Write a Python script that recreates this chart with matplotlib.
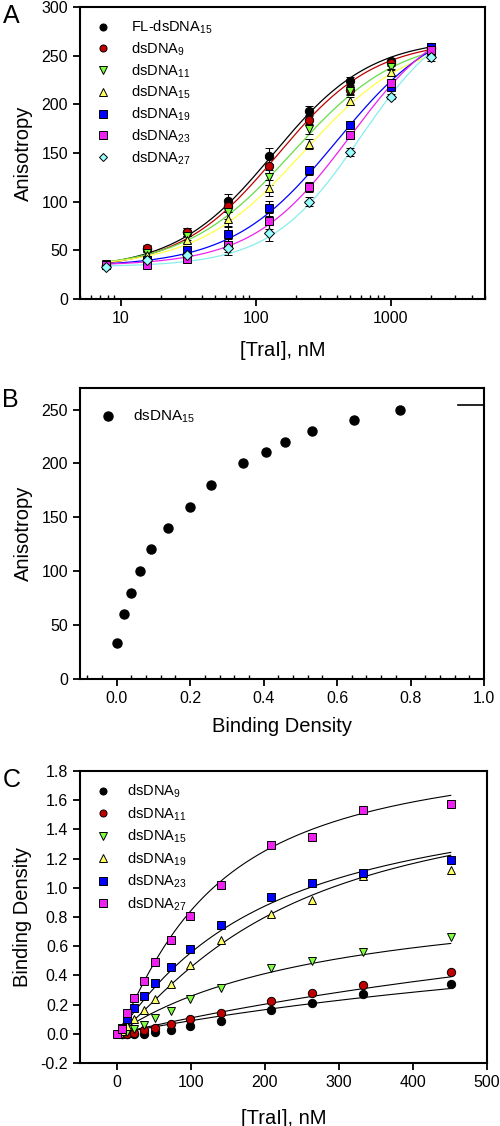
import numpy as np
import matplotlib
matplotlib.use('Agg')
import matplotlib.pyplot as plt
from matplotlib.ticker import MultipleLocator, LogLocator, NullFormatter, FixedLocator

plt.rcParams['font.family'] = ['Liberation Sans', 'DejaVu Sans']
plt.rcParams['mathtext.fontset'] = 'custom'
plt.rcParams['mathtext.rm'] = 'Liberation Sans'
plt.rcParams['mathtext.it'] = 'Liberation Sans'

# ---- panel A: anisotropy vs [TraI] ----
a_conc = [7.8, 15.6, 31.25, 62.5, 125, 250, 500, 1000, 2000]
a_labels = ['FL-dsDNA$_{15}$', 'dsDNA$_{9}$', 'dsDNA$_{11}$', 'dsDNA$_{15}$',
            'dsDNA$_{19}$', 'dsDNA$_{23}$', 'dsDNA$_{27}$']
a_fl15 = [35, 51, 69, 101, 147, 193, 224, 245, 259]
a_ds9 = [34, 52, 69, 96, 137, 184, 215, 242, 258]
a_ds11 = [36, 47, 65, 89, 125, 175, 214, 238, 257]
a_ds15 = [36, 45, 61, 82, 114, 159, 203, 233, 255]
a_ds19 = [35, 40, 50, 67, 93, 132, 179, 218, 259]
a_ds23 = [35, 35, 41, 55, 80, 115, 168, 222, 256]
a_ds27 = [33, 40, 45, 52, 68, 100, 151, 208, 249]
a_err = [2, 3, 4, 7, 8, 5, 4, 3, 4]
# Hill fit parameters per series: bottom, top, K, n
a_fits = [(30, 268, 135, 1.2), (30, 266, 145, 1.2), (31, 270, 187, 1.1),
          (32, 270, 226, 1.1), (33, 292, 400, 1.12), (34, 300, 500, 1.2),
          (33, 300, 600, 1.3)]

# ---- panel B: anisotropy vs binding density ----
b_density = [0.0, 0.019, 0.039, 0.063, 0.094, 0.14, 0.199, 0.258, 0.344,
             0.407, 0.457, 0.533, 0.645, 0.771]
b_aniso = [33, 60, 80, 100, 121, 140, 160, 180, 200, 211, 220, 230, 240, 250]

# ---- panel C: binding density vs [TraI] ----
c_conc = [0, 7, 14, 23, 36, 52, 73, 99, 140, 208, 264, 333, 451]
c_labels = ['dsDNA$_{9}$', 'dsDNA$_{11}$', 'dsDNA$_{15}$', 'dsDNA$_{19}$',
            'dsDNA$_{23}$', 'dsDNA$_{27}$']
c_ds9 = [np.nan, 0.0, 0.0, -0.005, 0.0, 0.01, 0.023, 0.05, 0.09, 0.16, 0.213, 0.27, 0.34]
c_ds11 = [np.nan, 0.0, 0.0, 0.007, 0.023, 0.041, 0.066, 0.098, 0.144, 0.222, 0.277, 0.336, 0.42]
c_ds15 = [np.nan, 0.0, 0.011, 0.034, 0.062, 0.108, 0.156, 0.236, 0.313, 0.453, 0.499, 0.558, 0.66]
c_ds19 = [np.nan, 0.02, 0.05, 0.10, 0.16, 0.24, 0.343, 0.474, 0.645, 0.817, 0.915, 1.078, 1.12]
c_ds23 = [np.nan, 0.04, 0.103, 0.176, 0.256, 0.35, 0.458, 0.58, 0.745, 0.94, 1.03, 1.10, 1.19]
c_ds27 = [0.0, 0.032, 0.144, 0.247, 0.361, 0.494, 0.64, 0.808, 1.02, 1.29, 1.35, 1.53, 1.572]
# fit parameters: top, K, n
c_fits = [(1.035, 1055, 1.0), (1.47, 1250, 1.0), (1.03, 300, 1.0),
          (1.75, 230, 1.25), (1.75, 200, 1.1), (2.0, 130, 1.2)]

styles = [('o', '#000000', '#000000'), ('o', '#c00000', '#c00000'),
          ('v', '#80ff40', '#66dd44'), ('^', '#ffff66', '#ffff44'),
          ('s', '#0000ff', '#0000ff'), ('s', '#ee22ee', '#ee22ee'),
          ('D', '#99ffff', '#88eeee')]

fig = plt.figure(figsize=(5.0, 11.26), dpi=100)
axA = fig.add_axes([0.16, 0.7345, 0.81, 0.2593])
axB = fig.add_axes([0.16, 0.397, 0.808, 0.2584])
axC = fig.add_axes([0.16, 0.056, 0.814, 0.2593])


def style_axis(ax):
    for sp in ax.spines.values():
        sp.set_linewidth(1.5)
    ax.tick_params(which='major', direction='out', length=5, width=1.3,
                   labelsize=11.5, top=False, right=False)
    ax.tick_params(which='minor', direction='in', length=3, width=1.0,
                   top=False, right=False)


# panel A
a_series = [a_fl15, a_ds9, a_ds11, a_ds15, a_ds19, a_ds23, a_ds27]
xfit = np.logspace(np.log10(7.8), np.log10(2000), 200)
for ys, lab, (m, fc, lc), (b, t, k, n) in zip(a_series, a_labels, styles, a_fits):
    axA.plot(xfit, b + (t - b) * xfit**n / (k**n + xfit**n), color=lc, lw=0.9)
    axA.errorbar(a_conc, ys, yerr=a_err, fmt=m, ms=6 if m != 'D' else 5,
                 mfc=fc, mec='black', mew=0.7, ecolor='black', elinewidth=0.8,
                 capsize=3, label=lab)
axA.set_xscale('log')
axA.set_xlim(5, 5000)
axA.set_ylim(0, 300)
axA.yaxis.set_major_locator(MultipleLocator(50))
axA.xaxis.set_major_locator(FixedLocator([10, 100, 1000]))
axA.xaxis.set_major_formatter(plt.FixedFormatter(['10', '100', '1000']))
axA.xaxis.set_minor_locator(LogLocator(base=10, subs=np.arange(2, 10)))
axA.xaxis.set_minor_formatter(NullFormatter())
axA.set_xlabel('[TraI], nM', fontsize=14.5, labelpad=11)
axA.set_ylabel('Anisotropy', fontsize=14.5, labelpad=6)
style_axis(axA)
handles, labels = axA.get_legend_handles_labels()
handles = [h[0] for h in handles]
axA.legend(handles, labels, loc='upper left', frameon=False, fontsize=10.5,
           handletextpad=1.2, labelspacing=0.3, borderaxespad=0.4,
           handlelength=1.5, markerscale=0.85)
fig.text(0.005, 0.986, 'A', fontsize=18, va='center')

# panel B
axB.plot(b_density, b_aniso, 'o', color='black', ms=6.5, label='dsDNA$_{15}$')
axB.plot([0.93, 1.0], [254.5, 254.5], color='black', lw=1.2)
axB.set_xlim(-0.1, 1.0)
axB.set_ylim(0, 270)
axB.xaxis.set_major_locator(MultipleLocator(0.2))
axB.xaxis.set_minor_locator(MultipleLocator(0.04))
axB.yaxis.set_major_locator(MultipleLocator(50))
axB.xaxis.set_major_formatter(plt.FuncFormatter(lambda v, p: '%.1f' % v))
axB.set_xlabel('Binding Density', fontsize=14.5, labelpad=8)
axB.set_ylabel('Anisotropy', fontsize=14.5, labelpad=6)
style_axis(axB)
axB.legend(loc='upper left', frameon=False, fontsize=11, handletextpad=1.2,
           borderaxespad=0.7, handlelength=1.0, borderpad=0.6)
fig.text(0.005, 0.645, 'B', fontsize=18, va='center')

# panel C
c_series = [c_ds9, c_ds11, c_ds15, c_ds19, c_ds23, c_ds27]
xc = np.linspace(5, 451, 200)
for t, k, n in c_fits:
    axC.plot(xc, t * xc**n / (k**n + xc**n), color='black', lw=0.8)
for ys, lab, (m, fc, lc) in zip(c_series, c_labels, styles):
    axC.plot(c_conc, ys, m, ms=6, mfc=fc, mec='black', mew=0.7, label=lab)
axC.set_xlim(-50, 500)
axC.set_ylim(-0.2, 1.8)
axC.xaxis.set_major_locator(MultipleLocator(100))
axC.yaxis.set_major_locator(MultipleLocator(0.2))
axC.yaxis.set_major_formatter(plt.FuncFormatter(lambda v, p: '%.1f' % v))
axC.set_xlabel('[TraI], nM', fontsize=14.5, labelpad=14)
axC.set_ylabel('Binding Density', fontsize=14.5, labelpad=6)
style_axis(axC)
axC.legend(loc='upper left', frameon=False, fontsize=10.5, handletextpad=0.9,
           labelspacing=0.35, borderaxespad=0.4, handlelength=1.5,
           markerscale=0.85)
fig.text(0.005, 0.307, 'C', fontsize=18, va='center')

fig.savefig('out.png', dpi=100)
